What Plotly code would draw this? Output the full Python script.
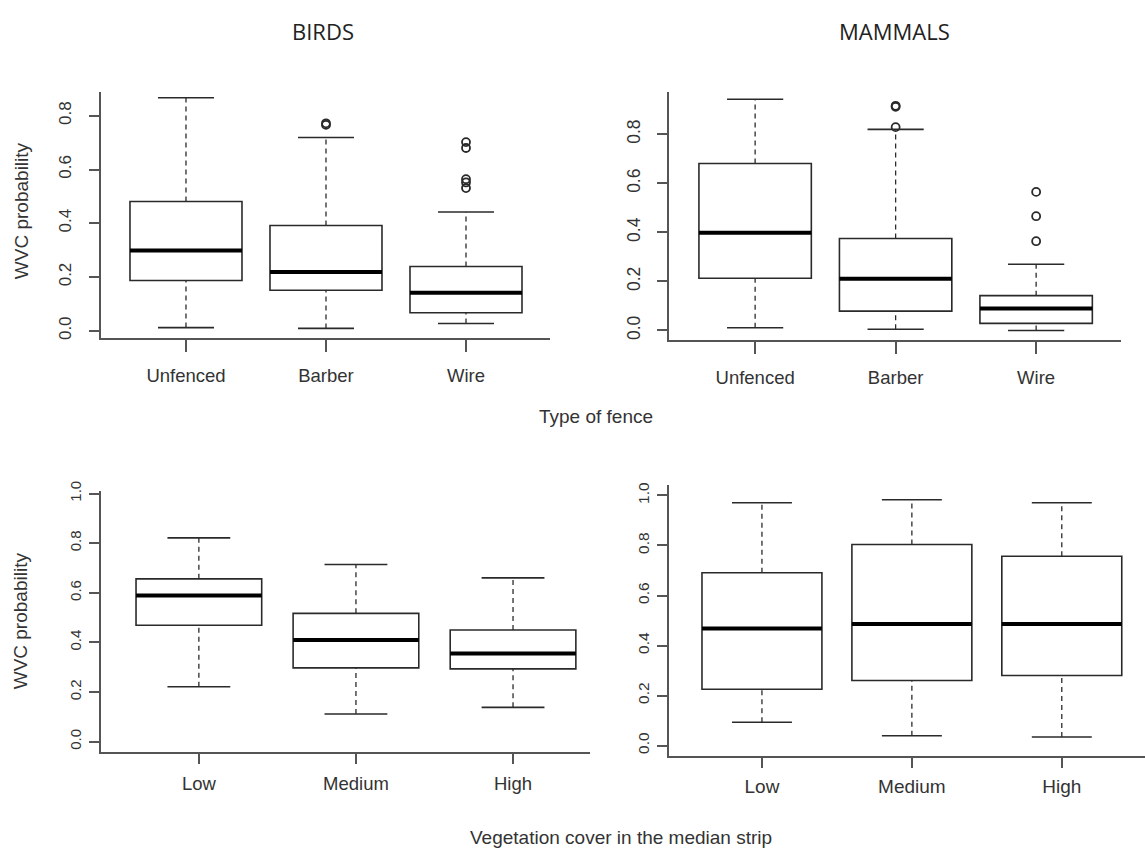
import plotly.graph_objects as go

FW, FH = 1145, 855

# ---------------- data ----------------
fence_cats = ["Unfenced", "Barber", "Wire"]
veg_cats = ["Low", "Medium", "High"]

birds_fence_lower = [0.012, 0.009, 0.027]
birds_fence_q1 = [0.187, 0.151, 0.067]
birds_fence_median = [0.299, 0.219, 0.142]
birds_fence_q3 = [0.481, 0.392, 0.239]
birds_fence_upper = [0.867, 0.719, 0.442]
birds_fence_outliers = [[], [0.772, 0.766], [0.702, 0.680, 0.564, 0.552, 0.531]]

mammals_fence_lower = [0.011, 0.005, 0.0]
mammals_fence_q1 = [0.213, 0.079, 0.029]
mammals_fence_median = [0.399, 0.211, 0.090]
mammals_fence_q3 = [0.681, 0.375, 0.142]
mammals_fence_upper = [0.943, 0.820, 0.270]
mammals_fence_outliers = [[], [0.916, 0.912, 0.829], [0.565, 0.466, 0.364]]

birds_veg_lower = [0.221, 0.111, 0.138]
birds_veg_q1 = [0.469, 0.297, 0.293]
birds_veg_median = [0.589, 0.409, 0.355]
birds_veg_q3 = [0.656, 0.517, 0.450]
birds_veg_upper = [0.821, 0.714, 0.660]
birds_veg_outliers = [[], [], []]

mammals_veg_lower = [0.093, 0.039, 0.034]
mammals_veg_q1 = [0.225, 0.260, 0.280]
mammals_veg_median = [0.468, 0.486, 0.486]
mammals_veg_q3 = [0.691, 0.804, 0.757]
mammals_veg_upper = [0.971, 0.983, 0.971]
mammals_veg_outliers = [[], [], []]

yticks_top = [0.0, 0.2, 0.4, 0.6, 0.8]
yticks_bottom = [0.0, 0.2, 0.4, 0.6, 0.8, 1.0]

# ---------------- layout of panels (pixels) ----------------
panels = [
    dict(cats=fence_cats, lo=birds_fence_lower, q1=birds_fence_q1, med=birds_fence_median,
         q3=birds_fence_q3, hi=birds_fence_upper, out=birds_fence_outliers,
         px=(101, 550), py=(83, 333), xr=(0.393, 3.6), yr=(-0.028, 0.889), yt=yticks_top,
         xfs=18.5, yfs=17, xtl=12, ytl=10, xso=8, yso=11),
    dict(cats=fence_cats, lo=mammals_fence_lower, q1=mammals_fence_q1, med=mammals_fence_median,
         q3=mammals_fence_q3, hi=mammals_fence_upper, out=mammals_fence_outliers,
         px=(669, 1121), py=(83, 335), xr=(0.387, 3.604), yr=(-0.04, 0.973), yt=yticks_top,
         xfs=18.5, yfs=17.5, xtl=12, ytl=10, xso=8, yso=10),
    dict(cats=veg_cats, lo=birds_veg_lower, q1=birds_veg_q1, med=birds_veg_median,
         q3=birds_veg_q3, hi=birds_veg_upper, out=birds_veg_outliers,
         px=(101, 590), py=(488, 753), xr=(0.377, 3.49), yr=(-0.0437, 1.0095), yt=yticks_bottom,
         xfs=18.5, yfs=15, xtl=10, ytl=10, xso=4, yso=2),
    dict(cats=veg_cats, lo=mammals_veg_lower, q1=mammals_veg_q1, med=mammals_veg_median,
         q3=mammals_veg_q3, hi=mammals_veg_upper, out=mammals_veg_outliers,
         px=(669, 1145), py=(482, 757), xr=(0.38, 3.555), yr=(-0.0434, 1.041), yt=yticks_bottom,
         xfs=19, yfs=15.5, xtl=10, ytl=10, xso=2, yso=2),
]

LINE = "#2a2a2a"
AXC = "#555555"
FAM = "Liberation Sans, Arial, sans-serif"

fig = go.Figure()
shapes = []
layout = dict(width=FW, height=FH, margin=dict(l=0, r=0, t=0, b=0),
              paper_bgcolor="white", plot_bgcolor="white", showlegend=False)

BW = 0.4   # half box width
CW = 0.2   # half cap width

for k, p in enumerate(panels, start=1):
    sx = "" if k == 1 else str(k)
    xref, yref = "x" + sx, "y" + sx
    layout["xaxis" + sx] = dict(
        domain=[p["px"][0] / FW, p["px"][1] / FW], range=list(p["xr"]), anchor=yref,
        tickvals=[1, 2, 3], ticktext=p["cats"], showline=True, linecolor=AXC, linewidth=1.5,
        ticks="outside", ticklen=p["xtl"], tickwidth=1.5, tickcolor=AXC, showgrid=False,
        zeroline=False, tickfont=dict(family=FAM, size=p["xfs"], color="#333333"),
        ticklabelstandoff=p["xso"], fixedrange=True)
    layout["yaxis" + sx] = dict(
        domain=[1 - p["py"][1] / FH, 1 - p["py"][0] / FH], range=list(p["yr"]), anchor=xref,
        tickvals=p["yt"], tickformat=".1f", tickangle=-90, showline=True, linecolor=AXC,
        linewidth=1.5, ticks="outside", ticklen=p["ytl"], tickwidth=1.5, tickcolor=AXC,
        showgrid=False, zeroline=False, tickfont=dict(family=FAM, size=p["yfs"], color="#333333"),
        ticklabelstandoff=p["yso"], fixedrange=True)
    for i in range(3):
        xc = i + 1
        # whiskers (dashed)
        shapes.append(dict(type="line", xref=xref, yref=yref, x0=xc, x1=xc, y0=p["q3"][i], y1=p["hi"][i],
                           line=dict(color=LINE, width=1.3, dash="5px,4px")))
        shapes.append(dict(type="line", xref=xref, yref=yref, x0=xc, x1=xc, y0=p["lo"][i], y1=p["q1"][i],
                           line=dict(color=LINE, width=1.3, dash="5px,4px")))
        # caps
        for v in (p["lo"][i], p["hi"][i]):
            shapes.append(dict(type="line", xref=xref, yref=yref, x0=xc - CW, x1=xc + CW, y0=v, y1=v,
                               line=dict(color=LINE, width=1.6)))
        # box
        shapes.append(dict(type="rect", xref=xref, yref=yref, x0=xc - BW, x1=xc + BW,
                           y0=p["q1"][i], y1=p["q3"][i], fillcolor="white",
                           line=dict(color=LINE, width=1.6)))
        # median
        shapes.append(dict(type="line", xref=xref, yref=yref, x0=xc - BW, x1=xc + BW,
                           y0=p["med"][i], y1=p["med"][i], line=dict(color="black", width=4)))
        # outliers
        if p["out"][i]:
            fig.add_trace(go.Scatter(
                x=[xc] * len(p["out"][i]), y=p["out"][i], xaxis=xref, yaxis=yref, mode="markers",
                marker=dict(symbol="circle-open", size=8, color=LINE, line=dict(width=1.8)),
                hoverinfo="y"))
    # invisible trace to register axes
    fig.add_trace(go.Scatter(x=[1, 2, 3], y=p["med"], xaxis=xref, yaxis=yref, mode="markers",
                             marker=dict(opacity=0), hoverinfo="skip"))

TITLEFONT = dict(family="Open Sans, Noto Sans, sans-serif", size=22, color="#222222")
LABFONT = dict(family=FAM, size=19, color="#333333")


def ann(text, x, y, font, angle=0):
    return dict(text=text, x=x / FW, y=1 - y / FH, xref="paper", yref="paper", showarrow=False,
                xanchor="center", yanchor="middle", font=font, textangle=angle)


layout["annotations"] = [
    ann("BIRDS", 323, 21, TITLEFONT),
    ann("MAMMALS", 894, 21, TITLEFONT),
    ann("Type of fence", 596, 412, LABFONT),
    ann("Vegetation cover in the median strip", 621, 839, LABFONT),
    ann("WVC probability", 21, 204, LABFONT, -90),
    ann("WVC probability", 20, 620, LABFONT, -90),
]
layout["shapes"] = shapes
fig.update_layout(**layout)
fig.write_html("out.html")
